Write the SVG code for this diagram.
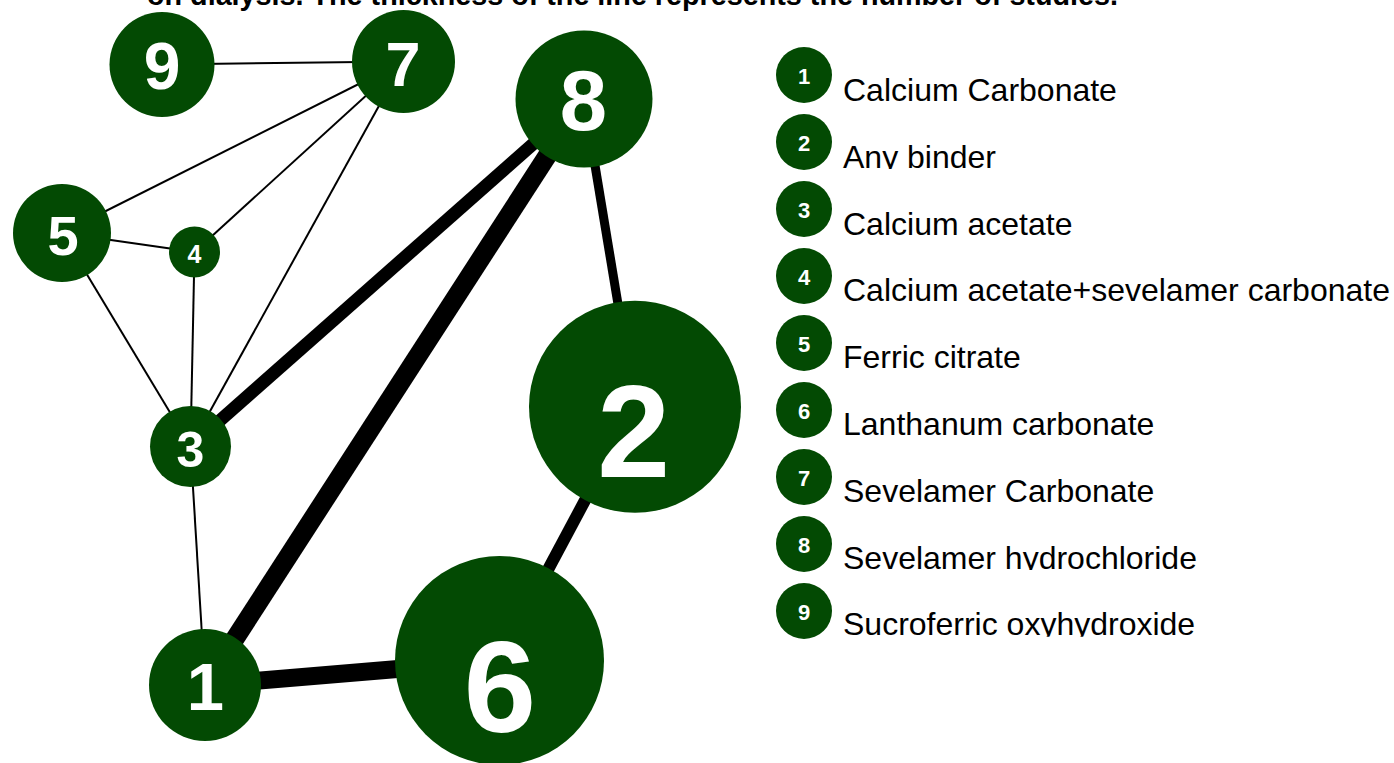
<svg xmlns="http://www.w3.org/2000/svg" width="1394" height="763" viewBox="0 0 1394 763">
<style>
  .node { fill: #034A03; }
  .lbl { fill: #ffffff; font-family: "Liberation Sans", Arial, sans-serif; font-weight: bold; text-anchor: middle; }
  .edge { stroke: #000000; stroke-linecap: butt; fill: none; }
  .leg { fill: #000000; font-family: "Liberation Sans", Arial, sans-serif; font-size: 32px; }
  .title { fill: #000000; font-family: "Liberation Sans", Arial, sans-serif; font-weight: bold; font-size: 29px; }
</style>
<defs>
  <clipPath id="legclip">
    <rect x="835" y="70" width="559" height="32.3"/>
    <rect x="835" y="137" width="559" height="32.1"/>
    <rect x="835" y="203" width="559" height="32.9"/>
    <rect x="835" y="270" width="559" height="32.7"/>
    <rect x="835" y="337" width="559" height="32.5"/>
    <rect x="835" y="404" width="559" height="32.3"/>
    <rect x="835" y="471" width="559" height="32.1"/>
    <rect x="835" y="537" width="559" height="32.9"/>
    <rect x="835" y="604" width="559" height="32.7"/>
  </clipPath>
</defs>
<rect width="1394" height="763" fill="#ffffff"/>
<text class="title" x="147" y="5" textLength="971" lengthAdjust="spacingAndGlyphs">on dialysis. The thickness of the line represents the number of studies.</text>

<g id="connectors">
  <line class="edge" x1="162" y1="64.5" x2="403.5" y2="61.5" stroke-width="2"/>
  <line class="edge" x1="403.5" y1="61.5" x2="62" y2="233" stroke-width="2"/>
  <line class="edge" x1="403.5" y1="61.5" x2="194.5" y2="252" stroke-width="2"/>
  <line class="edge" x1="403.5" y1="61.5" x2="190.5" y2="446.5" stroke-width="2"/>
  <line class="edge" x1="62" y1="233" x2="194.5" y2="252" stroke-width="2"/>
  <line class="edge" x1="62" y1="233" x2="190.5" y2="446.5" stroke-width="2"/>
  <line class="edge" x1="194.5" y1="252" x2="190.5" y2="446.5" stroke-width="2"/>
  <line class="edge" x1="190.5" y1="446.5" x2="205" y2="685" stroke-width="2"/>
  <line class="edge" x1="190.5" y1="446.5" x2="584" y2="99" stroke-width="13"/>
  <line class="edge" x1="205" y1="685" x2="584" y2="99" stroke-width="19"/>
  <line class="edge" x1="205" y1="685" x2="499.5" y2="660.5" stroke-width="18"/>
  <line class="edge" x1="584" y1="99" x2="635" y2="406.7" stroke-width="9"/>
  <line class="edge" x1="635" y1="406.7" x2="499.5" y2="660.5" stroke-width="12"/>
</g>

<g id="node-9"><circle class="node" cx="162" cy="64.5" r="52.5"/><text class="lbl" x="162" y="88.5" font-size="66">9</text></g>
<g id="node-7"><circle class="node" cx="403.5" cy="61.5" r="51.5"/><text class="lbl" x="403" y="86" font-size="63">7</text></g>
<g id="node-5"><circle class="node" cx="62" cy="233" r="49"/><text class="lbl" x="63" y="254.5" font-size="56">5</text></g>
<g id="node-4"><circle class="node" cx="194.5" cy="252" r="25.5"/><text class="lbl" x="194.5" y="263" font-size="25">4</text></g>
<g id="node-8"><circle class="node" cx="584" cy="99" r="68.5"/><text class="lbl" x="583.5" y="130" font-size="85">8</text></g>
<g id="node-3"><circle class="node" cx="190.5" cy="446.5" r="40.5"/><text class="lbl" x="190.5" y="467" font-size="50">3</text></g>
<g id="node-2"><circle class="node" cx="635" cy="406.7" r="106"/><text class="lbl" x="633.7" y="476.5" font-size="131">2</text></g>
<g id="node-1"><circle class="node" cx="205" cy="685" r="56"/><text class="lbl" x="205.5" y="710" font-size="67">1</text></g>
<g id="node-6"><circle class="node" cx="499.5" cy="660.5" r="104.5"/><text class="lbl" x="500" y="732" font-size="130">6</text></g>

<g id="legend">
  <g id="legend-1"><circle class="node" cx="804" cy="75" r="28"/><text class="lbl" x="804" y="84" font-size="22">1</text></g>
  <g id="legend-2"><circle class="node" cx="804" cy="142" r="28"/><text class="lbl" x="804" y="151" font-size="22">2</text></g>
  <g id="legend-3"><circle class="node" cx="804" cy="209" r="28"/><text class="lbl" x="804" y="218" font-size="22">3</text></g>
  <g id="legend-4"><circle class="node" cx="804" cy="276" r="28"/><text class="lbl" x="804" y="285" font-size="22">4</text></g>
  <g id="legend-5"><circle class="node" cx="804" cy="343" r="28"/><text class="lbl" x="804" y="352" font-size="22">5</text></g>
  <g id="legend-6"><circle class="node" cx="804" cy="410" r="28"/><text class="lbl" x="804" y="419" font-size="22">6</text></g>
  <g id="legend-7"><circle class="node" cx="804" cy="477" r="28"/><text class="lbl" x="804" y="486" font-size="22">7</text></g>
  <g id="legend-8"><circle class="node" cx="804" cy="544" r="28"/><text class="lbl" x="804" y="553" font-size="22">8</text></g>
  <g id="legend-9"><circle class="node" cx="804" cy="611" r="28"/><text class="lbl" x="804" y="620" font-size="22">9</text></g>
  <g clip-path="url(#legclip)">
    <text class="leg" x="843" y="101">Calcium Carbonate</text>
    <text class="leg" x="843" y="167.8">Any binder</text>
    <text class="leg" x="843" y="234.6">Calcium acetate</text>
    <text class="leg" x="843" y="301.4">Calcium acetate+sevelamer carbonate</text>
    <text class="leg" x="843" y="368.2">Ferric citrate</text>
    <text class="leg" x="843" y="435">Lanthanum carbonate</text>
    <text class="leg" x="843" y="501.8">Sevelamer Carbonate</text>
    <text class="leg" x="843" y="568.6">Sevelamer hydrochloride</text>
    <text class="leg" x="843" y="635.4">Sucroferric oxyhydroxide</text>
  </g>
</g>
</svg>
